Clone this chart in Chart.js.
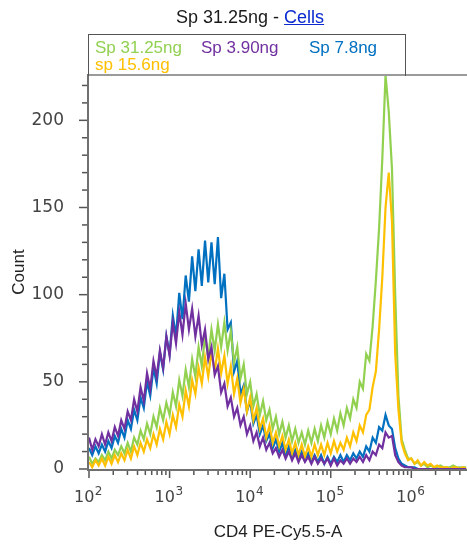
<!DOCTYPE html>
<html><head><meta charset="utf-8">
<script src="https://cdn.jsdelivr.net/npm/chart.js@4/dist/chart.umd.min.js"></script>
<style>
html,body{margin:0;padding:0;background:#fff;}
#wrap{position:relative;width:467px;height:545px;overflow:hidden;background:#fff;}
#c{position:absolute;left:0;top:0;}
#title{position:absolute;left:176px;top:7px;font:18px "Liberation Sans",Arial,sans-serif;line-height:20px;color:#1a1a1a;white-space:nowrap;}
#title u{color:#0a2ad0;}
#legend{position:absolute;left:88px;top:34px;width:316px;height:41px;border:1px solid #555;border-bottom:none;}
.li{position:absolute;font:17px "Liberation Sans",Arial,sans-serif;line-height:17px;white-space:nowrap;}
</style></head>
<body>
<div id="wrap">
<canvas id="c" width="467" height="545"></canvas>
<div id="title">Sp 31.25ng - <u>Cells</u></div>
<div id="legend"></div>
</div>
<script>
// Histogram channels: log10 bin positions
const binLogStart = 2.0;
const binLogStep = 0.04;

const seriesNames = ['Sp 31.25ng', 'Sp 3.90ng', 'Sp 7.8ng', 'sp 15.6ng'];
const seriesColors = ['#92D050', '#7030A0', '#0070C0', '#FFC000'];

const sp31_25 = [7,3,6,4,8,5,10,6,11,8, 13,9,15,10,18,14,22,17,26,20, 30,24,35,28,38,31,44,36,51,42, 57,47,63,53,70,59,76,64,80,68, 83,70,84,68,79,61,70,52,60,43, 50,36,43,31,39,28,34,23,30,20, 27,18,25,16,23,15,21,14,22,15, 23,16,25,18,27,20,29,22,32,25, 35,29,40,35,50,46,66,62,82,108, 138,178,226,205,172,100,42,17,11,6, 6,3,4,2,3,1,2,1,1,2, 1,1,1,2,1,1,1,1];
const sp3_90 = [18,11,17,13,20,14,21,16,24,19, 28,23,33,28,40,33,47,39,55,46, 62,53,68,58,76,65,84,72,90,77, 95,80,92,76,88,71,80,63,70,54, 59,44,49,36,41,30,35,25,30,20, 25,16,21,13,18,11,15,9,12,7, 11,6,10,5,9,4,8,4,7,3, 7,3,6,3,6,2,6,2,5,3, 6,3,6,4,7,4,8,5,10,8, 14,12,21,18,19,8,4,2,1,1, 1,0,0,0,0,0,0,0,0,0, 0,0,0,0,0,0,0,0];
const sp7_8 = [12,8,13,9,14,10,16,12,19,15, 23,18,28,23,34,28,41,35,50,42, 58,49,67,57,76,66,88,76,101,86, 111,96,122,102,126,105,131,107,130,106, 133,98,112,80,84,56,62,43,48,33, 39,26,31,20,25,16,20,12,17,10, 15,8,13,7,11,6,10,5,9,4, 8,4,8,3,7,3,7,4,8,4, 8,5,9,6,10,7,13,10,18,15, 24,22,31,25,23,12,6,3,2,1, 1,1,0,0,0,0,0,0,0,0, 0,0,0,0,0,0,0,0];
const sp15_6 = [4,1,5,2,6,2,7,3,8,4, 9,5,11,6,13,8,15,10,17,12, 20,14,23,17,27,20,31,24,37,30, 45,36,51,43,58,49,64,53,67,56, 69,55,65,49,59,43,52,38,46,33, 41,28,35,23,29,18,25,15,21,13, 19,11,17,9,15,8,14,7,13,7, 14,8,14,8,15,9,16,10,15,11, 18,13,21,16,25,21,31,34,47,56, 80,110,150,170,142,66,34,15,9,5, 6,3,5,2,4,2,3,1,2,1, 1,1,0,1,1,0,1,0];

const yTicks = [0, 50, 100, 150, 200];
const xTickExps = [2, 3, 4, 5, 6];
const xMinLog = 2, xMaxLog = 6.691, yMax = 226;

const series = [sp31_25, sp3_90, sp7_8, sp15_6];
const drawOrder = [2, 0, 3, 1];

// HTML legend built from the series names / colours
const legendPos = [[6,4],[112,4],[220,4],[6,21]];
const lg = document.getElementById('legend');
seriesNames.forEach((n,k)=>{
  const d = document.createElement('div');
  d.className = 'li';
  d.style.left = legendPos[k][0] + 'px';
  d.style.top = legendPos[k][1] + 'px';
  d.style.color = seriesColors[k];
  d.textContent = n;
  lg.appendChild(d);
});

const toPts = arr => arr.map((v,i)=>({x: Math.pow(10, binLogStart + binLogStep*i), y: v}));

const axisPlugin = {
  id: 'axisDraw',
  afterDraw(chart){
    const {ctx, chartArea:a, scales:{x, y}} = chart;
    const ax = 88, ay = 470;
    ctx.save();
    ctx.lineCap = 'butt';
    ctx.strokeStyle = '#9a9a9a'; ctx.lineWidth = 2;
    ctx.beginPath(); ctx.moveTo(ax, a.top); ctx.lineTo(a.right, a.top); ctx.stroke();
    ctx.strokeStyle = '#707070'; ctx.lineWidth = 2;
    ctx.beginPath(); ctx.moveTo(ax, a.top - 1); ctx.lineTo(ax, ay + 1); ctx.stroke();
    ctx.beginPath(); ctx.moveTo(ax - 1, ay); ctx.lineTo(a.right, ay); ctx.stroke();
    ctx.strokeStyle = '#555'; ctx.lineWidth = 1.5;
    for (let v = 0; v <= yMax; v += 10) {
      const py = y.getPixelForValue(v);
      const len = (v % 50 === 0) ? 8 : 5;
      ctx.beginPath(); ctx.moveTo(ax - 1 - len, py); ctx.lineTo(ax - 1, py); ctx.stroke();
    }
    for (let e = xMinLog; e <= 6; e++) {
      for (let k = 1; k <= 9; k++) {
        const v = k * Math.pow(10, e);
        if (v > Math.pow(10, xMaxLog)) break;
        const px = x.getPixelForValue(v);
        const len = (k === 1) ? 7 : 4;
        ctx.beginPath(); ctx.moveTo(px, ay + 1); ctx.lineTo(px, ay + 1 + len); ctx.stroke();
      }
    }
    ctx.fillStyle = '#444';
    ctx.textBaseline = 'alphabetic';
    ctx.textAlign = 'left';
    xTickExps.forEach(e=>{
      const px = x.getPixelForValue(Math.pow(10, e));
      ctx.font = '16px "DejaVu Sans"';
      const w1 = ctx.measureText('10').width;
      ctx.font = '12px "DejaVu Sans"';
      const w2 = ctx.measureText(String(e)).width;
      const start = px - (w1 + w2) / 2 - 1;
      ctx.font = '16px "DejaVu Sans"';
      ctx.fillText('10', start, 502);
      ctx.font = '12px "DejaVu Sans"';
      ctx.fillText(String(e), start + w1 + 0.5, 495);
    });
    ctx.restore();
  }
};

new Chart(document.getElementById('c'), {
  type: 'line',
  data: {
    datasets: series.map((s,k)=>({
      label: seriesNames[k],
      data: toPts(s),
      borderColor: seriesColors[k],
      backgroundColor: seriesColors[k],
      borderWidth: 2.2,
      pointRadius: 0,
      stepped: false,
      tension: 0,
      fill: false,
      order: drawOrder[k]
    }))
  },
  options: {
    responsive: false,
    animation: false,
    events: [],
    layout: {padding: {top: 75, left: 0, right: 0, bottom: 0}},
    plugins: {legend: {display: false}, tooltip: {enabled: false}, title: {display: false}},
    scales: {
      x: {
        type: 'logarithmic',
        min: Math.pow(10, xMinLog),
        max: Math.pow(10, xMaxLog),
        grid: {display: false},
        border: {display: false},
        ticks: {display: false},
        title: {display: true, text: 'CD4 PE-Cy5.5-A', color: '#222',
                font: {family: 'Liberation Sans', size: 17}, padding: {top: 0, bottom: 2}},
        afterFit: s => { s.height = 76; }
      },
      y: {
        type: 'linear',
        min: 0,
        max: yMax,
        grid: {display: false},
        border: {display: false},
        afterBuildTicks: s => { s.ticks = yTicks.map(v => ({value: v})); },
        ticks: {font: {family: 'DejaVu Sans', size: 17}, color: '#444', padding: 17},
        title: {display: true, text: 'Count', color: '#222',
                font: {family: 'Liberation Sans', size: 17}, padding: {top: 9, bottom: 0}},
        afterFit: s => { s.width = 89; }
      }
    }
  },
  plugins: [axisPlugin]
});
</script>
</body></html>
